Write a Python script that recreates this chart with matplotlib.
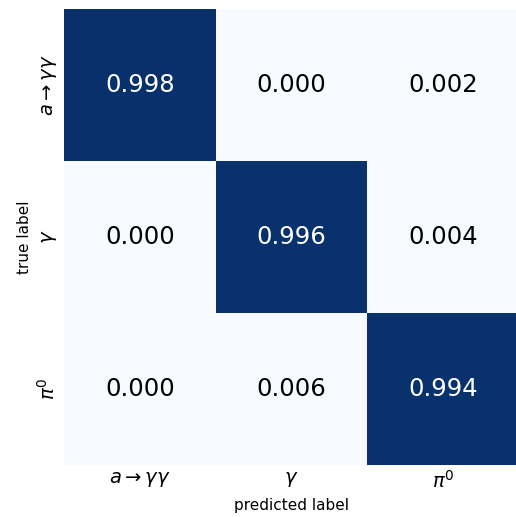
import numpy as np
import seaborn as sns
from matplotlib import pyplot as plt

classes = [r'$a \rightarrow \gamma\gamma$', r'$\gamma$', r'$\pi^0$']
row_a = [0.998, 0.000, 0.002]
row_gamma = [0.000, 0.996, 0.004]
row_pi0 = [0.000, 0.006, 0.994]


def main():
    cm = np.array([row_a, row_gamma, row_pi0])
    fig = plt.figure(figsize=(5.16, 5.17), dpi=100)
    ax = fig.add_axes([0.124, 0.1, 0.882, 0.883])
    sns.heatmap(cm, ax=ax, cmap='Blues', vmin=0, vmax=1, cbar=False,
                annot=True, fmt='.3f', annot_kws={'fontsize': 17.5},
                xticklabels=classes, yticklabels=classes)
    # plain black / white numbers
    for t in ax.texts:
        t.set_color('white' if float(t.get_text()) > 0.5 else 'black')
    ax.tick_params(length=0, labelsize=14)
    plt.setp(ax.get_yticklabels(), rotation=90, va='center')
    ax.set_xlabel('predicted label', fontsize=11)
    ax.set_ylabel('true label', fontsize=11)
    fig.savefig('out.png', dpi=100)


if __name__ == '__main__':
    main()
